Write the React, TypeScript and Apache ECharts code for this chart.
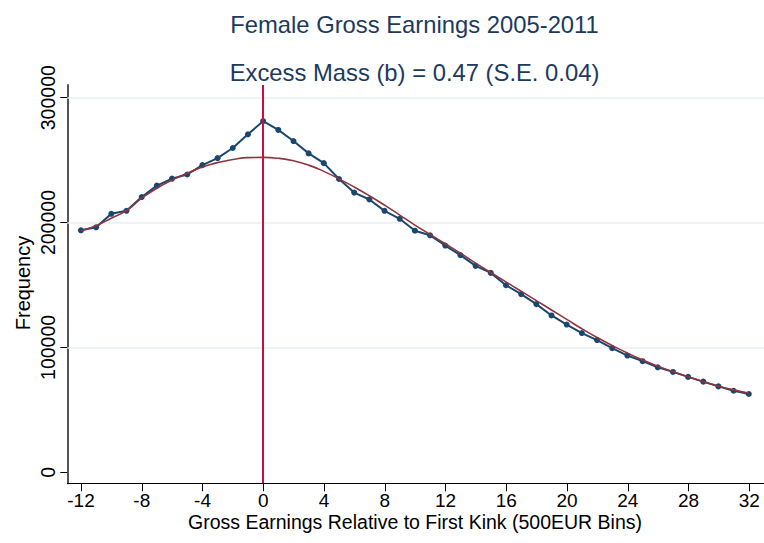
import React, { useEffect, useRef } from "react";
import * as echarts from "echarts";

const bins = [-12,-11,-10,-9,-8,-7,-6,-5,-4,-3,-2,-1,0,1,2,3,4,5,6,7,8,9,10,11,12,13,14,15,16,17,18,19,20,21,22,23,24,25,26,27,28,29,30,31,32];
const observed = [193800,196200,207000,209400,220400,229600,235200,238500,246000,251600,259700,270700,281200,274200,265300,255400,247600,234900,224000,218500,209400,203000,193500,189800,181600,173900,165300,159700,149800,142700,134700,125600,118300,111500,105900,99400,93500,89000,84100,80400,76400,72600,68800,65300,62700];
const fitted = [193500,197500,203500,209500,219500,227500,234000,239500,244500,248000,250500,252000,252200,251500,249500,246000,241000,235000,228500,221500,214000,206000,198000,190500,183000,175500,167500,160000,152500,145000,137500,130000,122500,115000,108000,101500,95500,90000,85000,80500,76500,72500,69000,66000,63500];
const xTicks = [-12,-8,-4,0,4,8,12,16,20,24,28,32];
const yTicks = [0,100000,200000,300000];
const titleLine1 = "Female Gross Earnings 2005-2011";
const titleLine2 = "Excess Mass (b) = 0.47 (S.E. 0.04)";
const xTitle = "Gross Earnings Relative to First Kink (500EUR Bins)";
const yTitle = "Frequency";

const FONT = "'Liberation Sans', Arial, sans-serif";

export default function App() {
  const ref = useRef<HTMLDivElement>(null);
  useEffect(() => {
    if (!ref.current) return;
    const chart = echarts.init(ref.current, null, { renderer: "svg" });
    const obs = bins.map((b, i) => [b, observed[i]]);
    const fit = bins.map((b, i) => [b, fitted[i]]);
    chart.setOption({
      animation: false,
      backgroundColor: "#ffffff",
      textStyle: { fontFamily: FONT },
      title: [
        { text: titleLine1, left: 409.5, top: 7, textAlign: "center", textStyle: { fontFamily: FONT, fontSize: 23.8, fontWeight: "normal", color: "#1c3a5e" } },
        { text: titleLine2, left: 409.5, top: 55, textAlign: "center", textStyle: { fontFamily: FONT, fontSize: 23.8, fontWeight: "normal", color: "#1c3a5e" } },
      ],
      grid: [
        { left: 67.3, right: 0, top: 85, bottom: 59.7 },
        { left: 81, right: 14.7, top: 97.7, bottom: 70.7 },
      ],
      xAxis: [
        {
          gridIndex: 0, type: "value", min: -12.9, max: 33,
          axisLine: { show: true, onZero: false, lineStyle: { color: "#000", width: 1 } },
          axisTick: { show: false }, axisLabel: { show: false }, splitLine: { show: false },
        },
        {
          gridIndex: 1, type: "value", min: xTicks[0], max: xTicks[xTicks.length - 1], interval: 4, offset: 11,
          axisLine: { show: false, onZero: false },
          axisTick: { show: true, length: 8, lineStyle: { color: "#000" } },
          axisLabel: { show: true, fontSize: 19, lineHeight: 19, color: "#000", margin: 8, fontFamily: FONT },
          splitLine: { show: false },
        },
      ],
      yAxis: [
        {
          gridIndex: 0, type: "value", min: -8810, max: 310170,
          axisLine: { show: true, onZero: false, lineStyle: { color: "#555", width: 2 } },
          axisTick: { show: false }, axisLabel: { show: false }, splitLine: { show: false },
        },
        {
          gridIndex: 1, type: "value", min: yTicks[0], max: yTicks[yTicks.length - 1], interval: 100000, offset: 13.7,
          axisLine: { show: false, onZero: false },
          axisTick: { show: true, length: 7, lineStyle: { color: "#000" } },
          axisLabel: { show: true, fontSize: 19.5, color: "#000", rotate: 90, margin: 9.5, fontFamily: FONT, formatter: (v: number) => String(v) },
          splitLine: { show: false },
        },
      ],
      graphic: [
        { type: "text", x: 415, y: 512, style: { text: xTitle, fontSize: 19.5, lineHeight: 20, fontFamily: FONT, fill: "#000", align: "center", verticalAlign: "top" } },
        { type: "text", x: 13, y: 283, rotation: Math.PI / 2, style: { text: yTitle, fontSize: 20, fontFamily: FONT, fill: "#000", align: "center", verticalAlign: "top" } },
      ],
      series: [
        {
          type: "line", xAxisIndex: 0, yAxisIndex: 0, data: obs,
          symbol: "circle", symbolSize: 6, showSymbol: true,
          itemStyle: { color: "#1a476f" }, lineStyle: { color: "#1a476f", width: 2 },
          z: 3,
          markLine: {
            silent: true, symbol: "none", label: { show: false },
            data: yTicks.slice(1).map((v) => ({ yAxis: v, lineStyle: { color: "#e8f0f2", width: 1.5, type: "solid" } })),
            z: 1,
          },
        },
        {
          type: "line", xAxisIndex: 0, yAxisIndex: 0, data: fit,
          symbol: "none", smooth: true,
          lineStyle: { color: "#93343c", width: 1.6 },
          z: 4,
          markLine: {
            silent: true, symbol: "none", label: { show: false },
            data: [{ xAxis: 0, lineStyle: { color: "#c8103e", width: 2, type: "solid" } }],
          },
        },
      ],
    });
    return () => chart.dispose();
  }, []);
  return <div ref={ref} style={{ width: 764, height: 543, position: "absolute", left: 0, top: 0 }} />;
}
